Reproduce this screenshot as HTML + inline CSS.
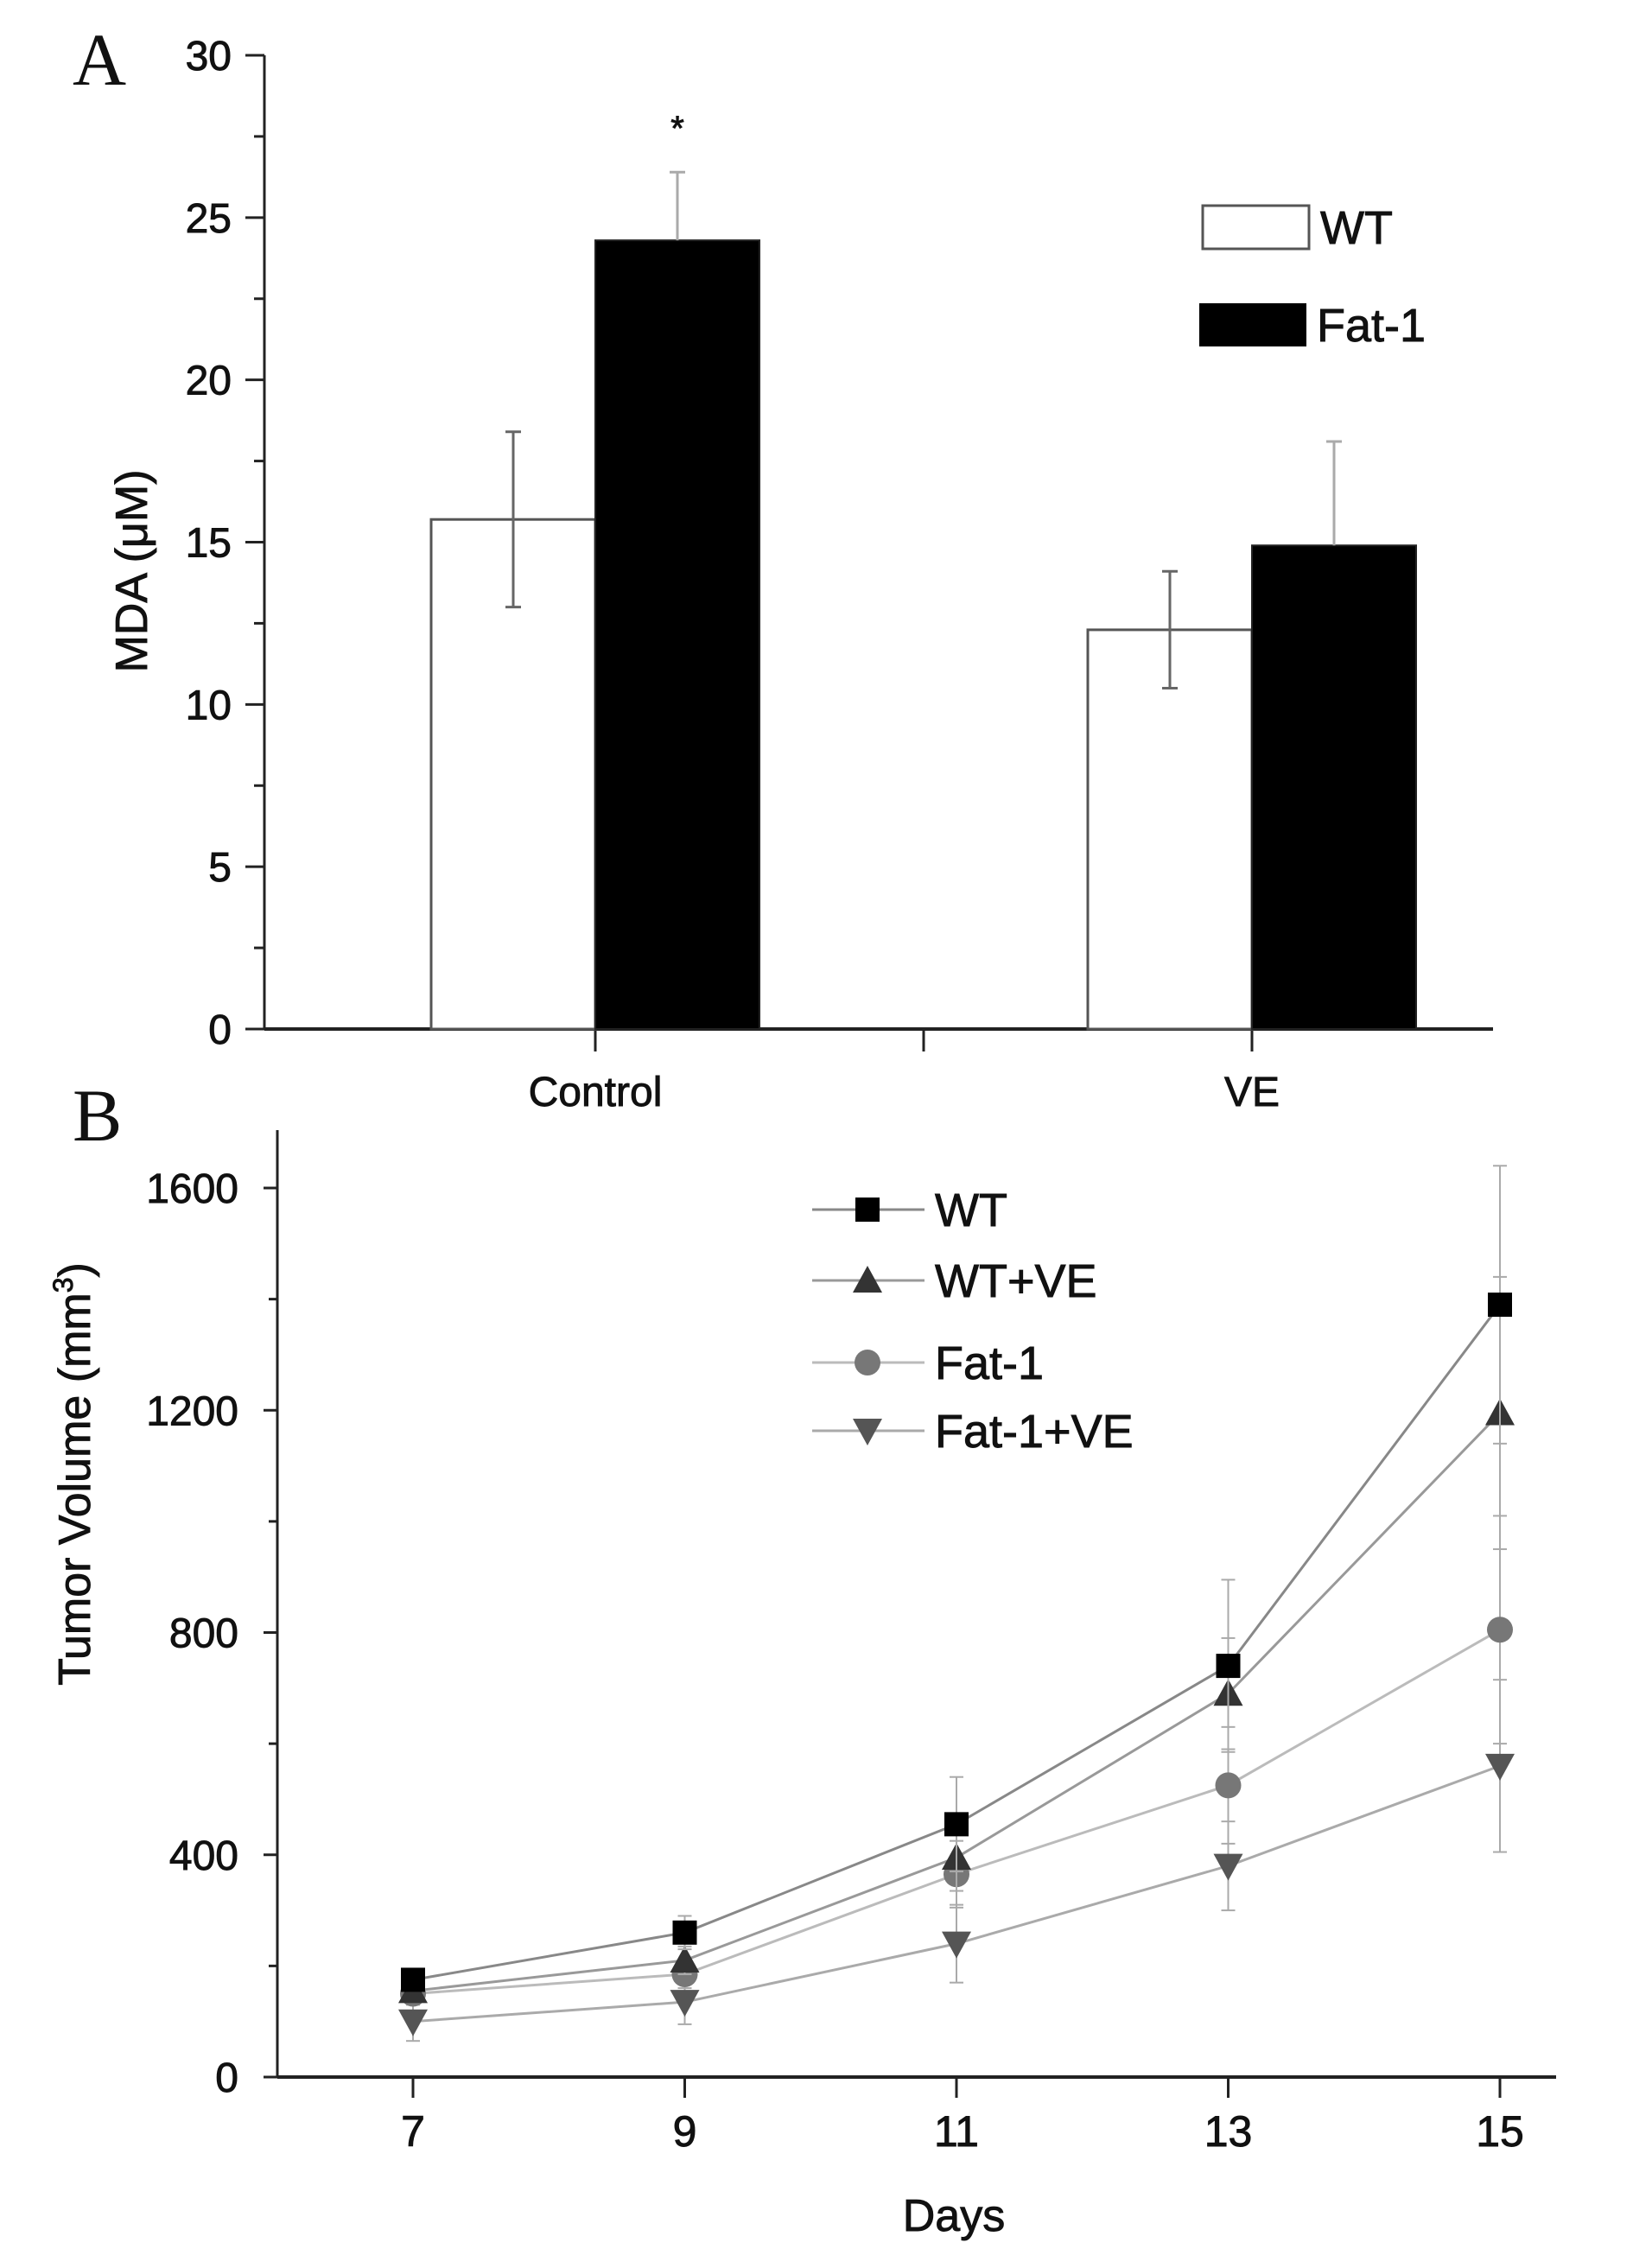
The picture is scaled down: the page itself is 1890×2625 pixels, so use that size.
<!DOCTYPE html>
<html><head><meta charset="utf-8"><style>
html,body{margin:0;padding:0;background:#fff;}
svg{display:block;font-family:"Liberation Sans",Arial,sans-serif;}
svg text{fill:#111;stroke:#111;stroke-width:0.9px;}
</style></head><body>
<svg id="fig" width="1890" height="2625" viewBox="0 0 1890 2625" xmlns="http://www.w3.org/2000/svg">
<text x="84" y="98" font-family="Liberation Serif,serif" font-size="86" style="stroke-width:0">A</text>
<text x="84" y="1320" font-family="Liberation Serif,serif" font-size="86" style="stroke-width:0">B</text>
<g id="chartA"></g>
<g id="chartB"></g>
</svg>
<script>
// ---- Chart A data ----
const groupsA = ["Control", "VE"];
const wtVals = [15.7, 12.3];
const wtErr = [2.7, 1.8];
const fatVals = [24.3, 14.9];
const fatErr = [2.1, 3.2];
const yTicksA = [0, 5, 10, 15, 20, 25, 30];

// ---- Chart B data ----
const days = [7, 9, 11, 13, 15];
const wtSeries = [175, 260, 455, 740, 1390];
const wtSeriesErr = [20, 30, 85, 155, 250];
const wtveSeries = [155, 210, 395, 690, 1195];
const wtveSeriesErr = [20, 25, 60, 100, 245];
const fatSeries = [150, 185, 365, 525, 805];
const fatSeriesErr = [20, 25, 60, 105, 205];
const fatveSeries = [100, 135, 240, 380, 560];
const fatveSeriesErr = [35, 40, 70, 80, 155];
const yTicksB = [0, 400, 800, 1200, 1600];
const xTicksB = [7, 9, 11, 13, 15];

const NS = "http://www.w3.org/2000/svg";
function mk(parent, tag, attrs, text) {
  const e = document.createElementNS(NS, tag);
  for (const k in attrs) e.setAttribute(k, attrs[k]);
  if (text !== undefined) e.textContent = text;
  parent.appendChild(e);
  return e;
}

// ===== Chart A =====
(function () {
  const g = document.getElementById('chartA');
  const x0 = 306, x1 = 1728, yTop = 64, yBot = 1191;
  const yS = v => yBot - (v / 30) * (yBot - yTop);
  const groupX = [689, 1449];
  const barW = 190;
  let e;
  e = mk(g, 'line', {x1: x0, y1: yTop, x2: x0, y2: yBot, stroke: '#222', 'stroke-width': 3});
   
  e = mk(g, 'line', {x1: x0, y1: yBot, x2: x1, y2: yBot, stroke: '#222', 'stroke-width': 4});
   
  for (let v = 0; v <= 30; v += 2.5) {
    const major = v % 5 === 0;
    mk(g, 'line', {x1: x0 - (major ? 22 : 12), y1: yS(v), x2: x0, y2: yS(v), stroke: '#222', 'stroke-width': 3});
  }
  yTicksA.forEach(v => {
    e = mk(g, 'text', {x: 268, y: yS(v) + 17, 'text-anchor': 'end', 'font-size': 48}, String(v));
     
  });
  [groupX[0], (groupX[0] + groupX[1]) / 2, groupX[1]].forEach(x => mk(g, 'line', {x1: x, y1: yBot, x2: x, y2: yBot + 26, stroke: '#222', 'stroke-width': 3}));
  groupsA.forEach((c, i) => {
    e = mk(g, 'text', {x: groupX[i], y: 1280, 'text-anchor': 'middle', 'font-size': 48}, c);
     
  });
  e = mk(g, 'text', {x: 0, y: 0, transform: 'translate(170,661) rotate(-90)', 'text-anchor': 'middle', 'font-size': 52}, 'MDA (μM)');
   
  groupsA.forEach((c, i) => {
    const cx = groupX[i];
    e = mk(g, 'rect', {x: cx - barW, y: yS(wtVals[i]), width: barW, height: yBot - yS(wtVals[i]), fill: '#fff', stroke: '#555', 'stroke-width': 3});
     
    const wx = cx - barW / 2;
    mk(g, 'line', {x1: wx, y1: yS(wtVals[i] - wtErr[i]), x2: wx, y2: yS(wtVals[i] + wtErr[i]), stroke: '#666', 'stroke-width': 3});
    mk(g, 'line', {x1: wx - 9, y1: yS(wtVals[i] - wtErr[i]), x2: wx + 9, y2: yS(wtVals[i] - wtErr[i]), stroke: '#666', 'stroke-width': 3});
    mk(g, 'line', {x1: wx - 9, y1: yS(wtVals[i] + wtErr[i]), x2: wx + 9, y2: yS(wtVals[i] + wtErr[i]), stroke: '#666', 'stroke-width': 3});
    e = mk(g, 'rect', {x: cx, y: yS(fatVals[i]), width: barW, height: yBot - yS(fatVals[i]), fill: '#000', stroke: '#222', 'stroke-width': 2});
     
    const fx = cx + barW / 2;
    mk(g, 'line', {x1: fx, y1: yS(fatVals[i]), x2: fx, y2: yS(fatVals[i] + fatErr[i]), stroke: '#aaa', 'stroke-width': 3});
    mk(g, 'line', {x1: fx - 9, y1: yS(fatVals[i] + fatErr[i]), x2: fx + 9, y2: yS(fatVals[i] + fatErr[i]), stroke: '#aaa', 'stroke-width': 3});
  });
  e = mk(g, 'text', {x: groupX[0] + barW / 2, y: 162, 'text-anchor': 'middle', 'font-size': 40}, '*');
   
  e = mk(g, 'rect', {x: 1392, y: 238, width: 123, height: 50, fill: '#fff', stroke: '#555', 'stroke-width': 3});
   
  e = mk(g, 'text', {x: 1528, y: 282, 'font-size': 54}, 'WT');
   
  e = mk(g, 'rect', {x: 1388, y: 351, width: 124, height: 50, fill: '#000'});
   
  e = mk(g, 'text', {x: 1524, y: 395, 'font-size': 54}, 'Fat-1');
   
})();

// ===== Chart B =====
(function () {
  const g = document.getElementById('chartB');
  const x0 = 321, x1 = 1801, yTop = 1308, yBot = 2404;
  const yS = v => yBot - (v / 1600) * (yBot - 1375);
  const xS = d => 478 + (d - 7) * 157.25;
  let e;
  e = mk(g, 'line', {x1: x0, y1: yTop, x2: x0, y2: yBot, stroke: '#222', 'stroke-width': 3});
   
  e = mk(g, 'line', {x1: x0, y1: yBot, x2: x1, y2: yBot, stroke: '#222', 'stroke-width': 4});
   
  for (let v = 0; v <= 1600; v += 200) {
    const major = v % 400 === 0;
    mk(g, 'line', {x1: x0 - (major ? 16 : 10), y1: yS(v), x2: x0, y2: yS(v), stroke: '#222', 'stroke-width': 3});
  }
  yTicksB.forEach(v => {
    e = mk(g, 'text', {x: 276, y: yS(v) + 17, 'text-anchor': 'end', 'font-size': 48}, String(v));
     
  });
  xTicksB.forEach(d => {
    mk(g, 'line', {x1: xS(d), y1: yBot, x2: xS(d), y2: yBot + 24, stroke: '#222', 'stroke-width': 3});
    e = mk(g, 'text', {x: xS(d), y: 2484, 'text-anchor': 'middle', 'font-size': 50}, String(d));
     
  });
  e = mk(g, 'text', {x: 1104, y: 2582, 'text-anchor': 'middle', 'font-size': 52}, 'Days');
   
  e = mk(g, 'text', {x: 0, y: 0, transform: 'translate(104,1706) rotate(-90)', 'text-anchor': 'middle', 'font-size': 52});
   
  mk(e, 'tspan', {}, 'Tumor Volume (mm');
  mk(e, 'tspan', {dy: -20, 'font-size': 32}, '3');
  mk(e, 'tspan', {dy: 20}, ')');

  function marker(parent, type, x, y, fill) {
    const s = 14;
    if (type === 'square') return mk(parent, 'rect', {x: x - s, y: y - s, width: 2 * s, height: 2 * s, fill: fill});
    if (type === 'circle') return mk(parent, 'circle', {cx: x, cy: y, r: s + 1, fill: fill});
    if (type === 'up') return mk(parent, 'polygon', {points: `${x},${y - s - 3} ${x - s - 3},${y + s} ${x + s + 3},${y + s}`, fill: fill});
    return mk(parent, 'polygon', {points: `${x},${y + s + 3} ${x - s - 3},${y - s} ${x + s + 3},${y - s}`, fill: fill});
  }
  const series = [
    {name: 'WT', vals: wtSeries, err: wtSeriesErr, m: 'square', fill: '#000', line: '#888', key: 'wt'},
    {name: 'WT+VE', vals: wtveSeries, err: wtveSeriesErr, m: 'up', fill: '#333', line: '#999', key: 'wt-ve'},
    {name: 'Fat-1', vals: fatSeries, err: fatSeriesErr, m: 'circle', fill: '#777', line: '#bbb', key: 'fat-1'},
    {name: 'Fat-1+VE', vals: fatveSeries, err: fatveSeriesErr, m: 'down', fill: '#555', line: '#aaa', key: 'fat-1-ve'}
  ];
  series.slice().reverse().forEach(s => {
    const sg = mk(g, 'g', {});
    
    
    s.vals.forEach((v, i) => {
      const x = xS(days[i]);
      mk(sg, 'line', {x1: x, y1: yS(v - s.err[i]), x2: x, y2: yS(v + s.err[i]), stroke: '#aaa', 'stroke-width': 2});
      mk(sg, 'line', {x1: x - 8, y1: yS(v - s.err[i]), x2: x + 8, y2: yS(v - s.err[i]), stroke: '#aaa', 'stroke-width': 2});
      mk(sg, 'line', {x1: x - 8, y1: yS(v + s.err[i]), x2: x + 8, y2: yS(v + s.err[i]), stroke: '#aaa', 'stroke-width': 2});
    });
    const pts = s.vals.map((v, i) => xS(days[i]) + ',' + yS(v)).join(' ');
    const pl = mk(sg, 'polyline', {points: pts, fill: 'none', stroke: s.line, 'stroke-width': 3});
    
    
    s.vals.forEach((v, i) => {
      const p = marker(sg, s.m, xS(days[i]), yS(v), s.fill);
      
      
    });
  });
  const ly = [1400, 1482, 1577, 1656];
  series.forEach((s, i) => {
    const lg = mk(g, 'g', {});
    
    
    mk(lg, 'line', {x1: 940, y1: ly[i], x2: 1070, y2: ly[i], stroke: s.line, 'stroke-width': 3});
    marker(lg, s.m, 1004, ly[i], s.fill);
    mk(lg, 'text', {x: 1082, y: ly[i] + 19, 'font-size': 54}, s.name);
  });
})();
</script>
</body></html>
